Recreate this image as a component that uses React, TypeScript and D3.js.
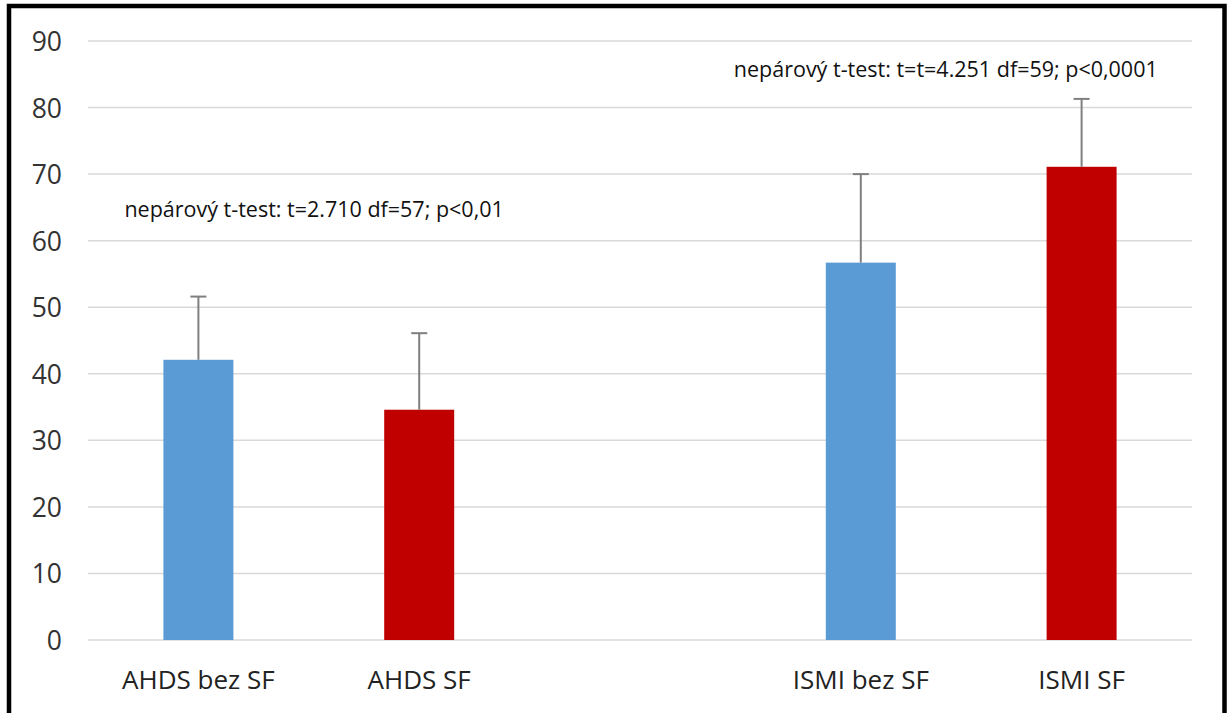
import React from "react";
import * as d3 from "d3";

// chart values
const categories = ["AHDS bez SF", "AHDS SF", "", "ISMI bez SF", "ISMI SF"];
const means = [42.1, 34.6, null, 56.7, 71.1];
const upper = [51.6, 46.1, null, 70.0, 81.3];
const barColors = ["#5B9BD5", "#C00000", "none", "#5B9BD5", "#C00000"];
const yTicks = [0, 10, 20, 30, 40, 50, 60, 70, 80, 90];
const notes = [
  { text: "nepárový t-test: t=2.710 df=57; p<0,01", cat: 0, value: 63.6 },
  { text: "nepárový t-test: t=t=4.251 df=59; p<0,0001", cat: 3, value: 84.6 },
];

const W = 1228;
const H = 713;
const left = 88;
const right = 1192;
const top = 41;
const bottom = 640;
const font = "'Open Sans', 'DejaVu Sans', sans-serif";

const App = () => {
  const x = d3
    .scaleBand<string>()
    .domain(categories.map((c, i) => `${i}`))
    .range([left, right])
    .paddingInner(0.683)
    .paddingOuter(0.683 / 2);
  const y = d3.scaleLinear().domain([0, 90]).range([bottom, top]);
  const bw = x.bandwidth();

  return (
    <svg
      width={W}
      height={H}
      style={{ position: "absolute", left: 0, top: 0, background: "#fff" }}
    >
      <rect x={0} y={0} width={W} height={H} fill="#fff" />
      {yTicks.map((t) => (
        <g key={t}>
          <line
            x1={left}
            x2={right}
            y1={y(t)}
            y2={y(t)}
            stroke="#d9d9d9"
            strokeWidth={1.5}
          />
          <text
            x={62}
            y={y(t)}
            textAnchor="end"
            dominantBaseline="central"
            fontFamily={font}
            fontSize={26.5}
            fill="#333"
          >
            {t}
          </text>
        </g>
      ))}
      {categories.map((c, i) => {
        const m = means[i];
        const u = upper[i];
        if (m === null || u === null) return null;
        const x0 = x(`${i}`)!;
        const cx = x0 + bw / 2;
        return (
          <g key={i}>
            <rect
              x={x0}
              y={y(m)}
              width={bw}
              height={y(0) - y(m)}
              fill={barColors[i]}
            />
            <line x1={cx} x2={cx} y1={y(m)} y2={y(u)} stroke="#7f7f7f" strokeWidth={2} />
            <line
              x1={cx - 8}
              x2={cx + 8}
              y1={y(u)}
              y2={y(u)}
              stroke="#7f7f7f"
              strokeWidth={2}
            />
            <text
              x={cx}
              y={689}
              textAnchor="middle"
              fontFamily={font}
              fontSize={26}
              fill="#222"
            >
              {c}
            </text>
          </g>
        );
      })}
      {notes.map((n, i) => (
        <text
          key={i}
          x={x(`${n.cat}`)! - (i === 0 ? 39 : 92)}
          y={y(n.value)}
          fontFamily={font}
          fontSize={21.5}
          fill="#111"
        >
          {n.text}
        </text>
      ))}
      <rect
        x={9}
        y={6}
        width={1215.5}
        height={800}
        fill="none"
        stroke="#000"
        strokeWidth={4.5}
      />
    </svg>
  );
};

export default App;
